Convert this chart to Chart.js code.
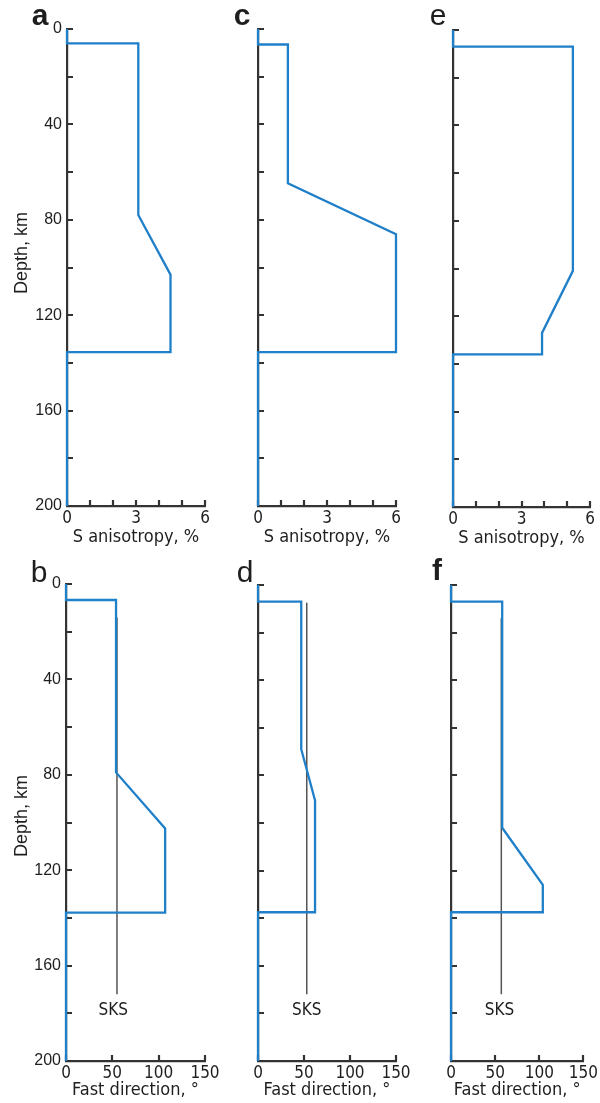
<!DOCTYPE html>
<html>
<head>
<meta charset="utf-8">
<script src="https://cdn.jsdelivr.net/npm/chart.js@4.4.1/dist/chart.umd.min.js"></script>
<style>
body{margin:0;background:#fff;}
#wrap{position:relative;width:600px;height:1103px;}
#wrap canvas{position:absolute;left:0;top:0;}
</style>
</head>
<body>
<div id="wrap"></div>
<script>
'use strict';
// depth profiles (km) and values
let depthA = [0, 6, 6, 78, 103, 135.5, 135.5, 200];
let anisoA = [0, 0, 3.1, 3.1, 4.5, 4.5, 0, 0];
let depthC = [0, 6.5, 6.5, 64.7, 86, 135.5, 135.5, 200];
let anisoC = [0, 0, 1.3, 1.3, 6, 6, 0, 0];
let depthE = [0, 7, 7, 101, 127, 136, 136, 200];
let anisoE = [0, 0, 5.25, 5.25, 3.9, 3.9, 0, 0];

let depthB = [0, 6.7, 6.7, 79, 102.5, 137.8, 137.8, 200];
let fastB = [0, 0, 54, 54, 107, 107, 0, 0];
let depthD = [0, 7, 7, 69, 90.5, 137.5, 137.5, 200];
let fastD = [0, 0, 47, 47, 62, 62, 0, 0];
let depthF = [0, 7, 7, 102, 126, 137.5, 137.5, 200];
let fastF = [0, 0, 58, 58, 104, 104, 0, 0];

// SKS fast direction lines (b, d, f)
let sksFast = [55, 53, 57];
let sksTop = [14, 7.5, 14];
let sksBottom = [172, 172, 172];
let sksLabelX = [51, 53, 55];
let sksLabelDepth = 179;

let anisoTicks = [0, 3, 6];
let fastTicks = [0, 50, 100, 150];
let depthTicks = [0, 40, 80, 120, 160, 200];

let blue = '#1f7fc8';
let grey = '#555555';
let axisColor = '#333333';
let textColor = '#1e1e1e';
let condensed = '"DejaVu Sans Condensed", "DejaVu Sans", sans-serif';
let wrap = document.getElementById('wrap');

// small inward tick marks on both axes
const tickMarks = {
  id: 'tickMarks',
  beforeDatasetsDraw(chart) {
    let ctx = chart.ctx;
    let xs = chart.scales.x, ys = chart.scales.y;
    let area = chart.chartArea;
    ctx.save();
    ctx.strokeStyle = axisColor;
    ctx.lineWidth = 2.2;
    ctx.beginPath();
    ys.ticks.forEach(t => {
      let py = Math.round(ys.getPixelForValue(t.value));
      ctx.moveTo(area.left, py);
      ctx.lineTo(area.left + 6, py);
    });
    xs.ticks.forEach(t => {
      let px = Math.round(xs.getPixelForValue(t.value));
      ctx.moveTo(px, area.bottom);
      ctx.lineTo(px, area.bottom - 6);
    });
    ctx.stroke();
    ctx.restore();
  }
};

function makeNotes(items) {
  return {
    id: 'notes',
    afterDraw(chart) {
      let ctx = chart.ctx;
      items.forEach(it => {
        let x = it.dataX !== undefined ? chart.scales.x.getPixelForValue(it.dataX) : it.x;
        let y = it.dataY !== undefined ? chart.scales.y.getPixelForValue(it.dataY) : it.y;
        ctx.save();
        ctx.translate(x, y);
        if (it.rotate) ctx.rotate(it.rotate);
        ctx.font = it.font;
        ctx.fillStyle = textColor;
        ctx.textAlign = 'center';
        ctx.textBaseline = it.baseline || 'middle';
        ctx.fillText(it.text, 0, 0);
        ctx.restore();
      });
    }
  };
}

function toPoints(xs, ys) {
  return ys.map((d, i) => ({x: xs[i], y: d}));
}

function makePanel(p) {
  let canvas = document.createElement('canvas');
  canvas.width = 600;
  canvas.height = 1103;
  wrap.appendChild(canvas);

  let yW = p.labels ? p.box[0] : 10;
  let xH = p.xH;
  let datasets = [{
    data: toPoints(p.value, p.depth),
    showLine: true, borderColor: blue, borderWidth: 2.3,
    pointRadius: 0, clip: false, tension: 0
  }];
  let items = [{text: p.letter, x: p.letterPos[0], y: p.letterPos[1], baseline: 'alphabetic',
    font: (p.bold ? 'bold ' : '') + '30px "Liberation Sans", Arial, sans-serif'}];
  if (p.sks !== undefined) {
    let k = p.sks;
    datasets.push({
      data: [{x: sksFast[k], y: sksTop[k]}, {x: sksFast[k], y: sksBottom[k]}],
      showLine: true, borderColor: grey, borderWidth: 1.5, pointRadius: 0, clip: false
    });
    items.push({text: 'SKS', dataX: sksLabelX[k], dataY: sksLabelDepth,
      font: '17px ' + condensed});
  }
  if (p.labels) {
    items.push({text: 'Depth, km', x: 22, y: p.depthTitleY, rotate: -Math.PI / 2,
      font: '18px "Liberation Sans", Arial, sans-serif'});
  }

  new Chart(canvas.getContext('2d'), {
    type: 'scatter',
    data: {datasets: datasets},
    options: {
      responsive: false,
      animation: false,
      devicePixelRatio: 1,
      layout: {padding: {left: p.box[0] - yW, right: 600 - p.box[1], top: p.box[2], bottom: 1103 - p.box[3] - xH}},
      plugins: {legend: {display: false}, tooltip: {enabled: false}},
      scales: {
        x: {
          type: 'linear', min: 0, max: p.xTicks[p.xTicks.length - 1],
          afterFit(s) { s.height = xH; },
          grid: {drawOnChartArea: false, drawTicks: false},
          border: {display: true, color: axisColor, width: 2.2},
          ticks: {
            stepSize: p.xStep, autoSkip: false, maxRotation: 0, padding: 2, color: textColor,
            font: {family: condensed, size: 17},
            callback: v => p.xTicks.includes(v) ? String(v) : ''
          },
          title: {
            display: true, text: p.xTitle, color: textColor,
            font: {family: condensed, size: 18},
            padding: {top: 0, bottom: p.titlePad}
          }
        },
        y: {
          type: 'linear', reverse: true, min: 0, max: 200,
          afterFit(s) { s.width = yW; },
          grid: {drawOnChartArea: false, drawTicks: false},
          border: {display: true, color: axisColor, width: 2.2},
          ticks: {
            display: p.labels, stepSize: 20, autoSkip: false, padding: 5, color: textColor,
            font: {family: '"Liberation Sans", Arial, sans-serif', size: 16},
            callback: v => depthTicks.includes(v) ? String(v) : ''
          }
        }
      }
    },
    plugins: [tickMarks, makeNotes(items)]
  });
}

let topRow = {xTicks: anisoTicks, xStep: 1, xTitle: 'S anisotropy, %', xH: 60, titlePad: 18};
let bottomRow = {xTicks: fastTicks, xStep: 50, xTitle: 'Fast direction, \u00b0', xH: 40, titlePad: 0};

makePanel(Object.assign({}, topRow, {letter: 'a', letterPos: [40, 25], bold: true, depth: depthA, value: anisoA, box: [67, 205, 29, 506], labels: true, depthTitleY: 253}));
makePanel(Object.assign({}, topRow, {letter: 'c', letterPos: [242, 25], bold: true, depth: depthC, value: anisoC, box: [258, 396, 29, 506], labels: false}));
makePanel(Object.assign({}, topRow, {letter: 'e', letterPos: [438, 25], bold: false, depth: depthE, value: anisoE, box: [453, 590, 30, 507], labels: false}));
makePanel(Object.assign({}, bottomRow, {letter: 'b', letterPos: [39, 582], bold: false, depth: depthB, value: fastB, box: [66, 205, 584, 1061], labels: true, depthTitleY: 816, sks: 0}));
makePanel(Object.assign({}, bottomRow, {letter: 'd', letterPos: [245, 582], bold: false, depth: depthD, value: fastD, box: [258, 396, 585, 1061], labels: false, sks: 1}));
makePanel(Object.assign({}, bottomRow, {letter: 'f', letterPos: [437, 580], bold: true, depth: depthF, value: fastF, box: [451, 589, 585, 1061], labels: false, sks: 2}));
</script>
</body>
</html>
